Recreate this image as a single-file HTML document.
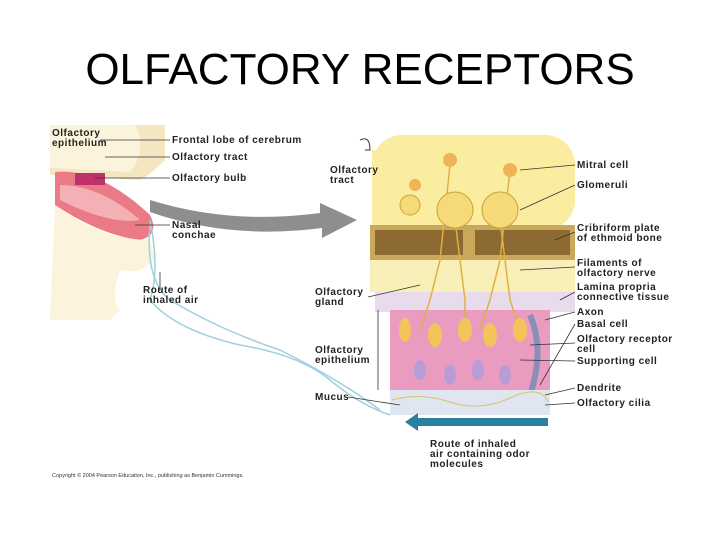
<!DOCTYPE html>
<html><head><meta charset="utf-8"><style>
html,body{margin:0;padding:0;background:#fff;width:720px;height:540px;overflow:hidden}
svg{display:block}
.t{font-family:"Liberation Sans",sans-serif;font-size:10px;letter-spacing:0.5px;font-weight:bold;fill:#222}
</style></head><body>
<svg width="720" height="540" viewBox="0 0 720 540">
<text x="360" y="84" text-anchor="middle" font-family="Liberation Sans,sans-serif" font-size="44" fill="#000">OLFACTORY RECEPTORS</text>

<!-- head -->
<path d="M50,125 L165,125 L165,160 Q150,175 140,180 L50,175 Z" fill="#f3e6c0"/>
<path d="M50,125 L135,125 Q148,150 130,172 L50,168 Z" fill="#fbf3dc"/>
<path d="M55,172 Q100,168 150,215 Q160,235 140,240 Q100,235 55,205 Z" fill="#e97a86"/>
<path d="M60,185 Q100,185 140,220 Q110,225 60,200 Z" fill="#f3b0b5"/>
<path d="M75,173 L105,173 L105,185 L75,185 Z" fill="#c0306a"/>
<path d="M55,205 Q100,240 150,240 L155,260 Q140,275 120,270 Q110,300 120,310 L110,320 L50,320 Z" fill="#fbf3dc"/>
<path d="M150,220 Q160,270 150,300 Q175,330 240,345 Q300,355 330,380 Q360,405 390,415" fill="none" stroke="#9fd0e0" stroke-width="1.5"/>
<path d="M150,225 Q145,280 170,300 Q220,330 280,350 Q340,380 380,410" fill="none" stroke="#9fd0e0" stroke-width="1.5"/>

<!-- grey arrow -->
<path d="M150,200 Q230,225 320,213 L320,203 L357,220 L322,238 L322,228 Q230,240 150,212 Z" fill="#8e8e8e"/>

<!-- right diagram -->
<rect x="372" y="135" width="203" height="95" rx="30" fill="#fbeda0"/>
<rect x="372" y="150" width="40" height="80" fill="#fbeda0"/>
<rect x="370" y="225" width="205" height="35" fill="#c9a85c"/>
<rect x="375" y="230" width="88" height="25" fill="#8c6a32"/>
<rect x="475" y="230" width="95" height="25" fill="#8c6a32"/>
<rect x="370" y="260" width="205" height="32" fill="#f9efb8"/>
<rect x="375" y="292" width="200" height="20" fill="#e8dbec"/>
<rect x="390" y="310" width="160" height="85" fill="#ea9cc0"/>
<g stroke="#e0b040" stroke-width="1.5" fill="none">
<path d="M450,165 L440,260 L430,300 L420,330"/><path d="M510,170 L500,260 L490,300 L480,330"/>
<path d="M455,220 L465,300 L465,330"/><path d="M500,220 L510,300 L520,330"/>
</g>
<g fill="#f3c45a">
<ellipse cx="405" cy="330" rx="6" ry="12"/><ellipse cx="435" cy="335" rx="7" ry="12"/><ellipse cx="465" cy="330" rx="7" ry="12"/><ellipse cx="490" cy="335" rx="7" ry="12"/><ellipse cx="520" cy="330" rx="7" ry="12"/>
</g>
<g fill="#b79cd6">
<ellipse cx="420" cy="370" rx="6" ry="10"/><ellipse cx="450" cy="375" rx="6" ry="10"/><ellipse cx="478" cy="370" rx="6" ry="10"/><ellipse cx="505" cy="375" rx="6" ry="10"/>
</g>
<path d="M530,315 Q545,350 530,395" stroke="#8a8fb8" stroke-width="6" fill="none"/>
<rect x="390" y="390" width="160" height="25" fill="#dfe6ef"/>
<path d="M392,400 Q420,392 450,402 T510,398 T548,402" stroke="#d8c070" fill="none"/>
<g fill="#f6d978" stroke="#c9a23a">
<circle cx="455" cy="210" r="18"/><circle cx="500" cy="210" r="18"/><circle cx="410" cy="205" r="10"/>
</g>
<g fill="#f0b35a"><circle cx="450" cy="160" r="7"/><circle cx="510" cy="170" r="7"/><circle cx="415" cy="185" r="6"/></g>
<path d="M360,140 Q370,135 370,150 L365,150" fill="none" stroke="#333"/>

<!-- blue arrow -->
<path d="M548,418 L418,418 L418,413 L405,422 L418,431 L418,426 L548,426 Z" fill="#2a7fa2"/>

<!-- leader lines -->
<g stroke="#333" stroke-width="0.8" fill="none">
<line x1="100" y1="140" x2="170" y2="140"/><line x1="105" y1="157" x2="170" y2="157"/><line x1="95" y1="178" x2="170" y2="178"/>
<line x1="135" y1="225" x2="170" y2="225"/><line x1="160" y1="272" x2="160" y2="290"/>
<line x1="575" y1="165" x2="520" y2="170"/><line x1="575" y1="185" x2="520" y2="210"/><line x1="575" y1="232" x2="555" y2="240"/>
<line x1="575" y1="267" x2="520" y2="270"/><line x1="575" y1="292" x2="560" y2="300"/><line x1="575" y1="312" x2="545" y2="320"/>
<line x1="575" y1="324" x2="540" y2="385"/><line x1="575" y1="343" x2="530" y2="345"/><line x1="575" y1="361" x2="520" y2="360"/>
<line x1="575" y1="388" x2="545" y2="395"/><line x1="575" y1="403" x2="545" y2="405"/>
<line x1="368" y1="297" x2="420" y2="285"/><line x1="378" y1="310" x2="378" y2="390"/><line x1="348" y1="397" x2="400" y2="405"/>
</g>

<!-- labels -->
<g class="t">
<text x="52" y="136">Olfactory</text><text x="52" y="146">epithelium</text>
<text x="172" y="143">Frontal lobe of cerebrum</text>
<text x="172" y="160">Olfactory tract</text>
<text x="172" y="181">Olfactory bulb</text>
<text x="172" y="228">Nasal</text><text x="172" y="238">conchae</text>
<text x="143" y="293">Route of</text><text x="143" y="303">inhaled air</text>
<text x="330" y="173">Olfactory</text><text x="330" y="183">tract</text>
<text x="315" y="295">Olfactory</text><text x="315" y="305">gland</text>
<text x="315" y="353">Olfactory</text><text x="315" y="363">epithelium</text>
<text x="315" y="400">Mucus</text>
<text x="577" y="168">Mitral cell</text>
<text x="577" y="188">Glomeruli</text>
<text x="577" y="231">Cribriform plate</text><text x="577" y="241">of ethmoid bone</text>
<text x="577" y="266">Filaments of</text><text x="577" y="276">olfactory nerve</text>
<text x="577" y="290">Lamina propria</text><text x="577" y="300">connective tissue</text>
<text x="577" y="315">Axon</text>
<text x="577" y="327">Basal cell</text>
<text x="577" y="342">Olfactory receptor</text><text x="577" y="352">cell</text>
<text x="577" y="364">Supporting cell</text>
<text x="577" y="391">Dendrite</text>
<text x="577" y="406">Olfactory cilia</text>
<text x="430" y="447">Route of inhaled</text><text x="430" y="457">air containing odor</text><text x="430" y="467">molecules</text>
</g>
<text x="52" y="477" font-family="Liberation Sans,sans-serif" font-size="5.5" fill="#333">Copyright © 2004 Pearson Education, Inc., publishing as Benjamin Cummings.</text>
</svg>
</body></html>
